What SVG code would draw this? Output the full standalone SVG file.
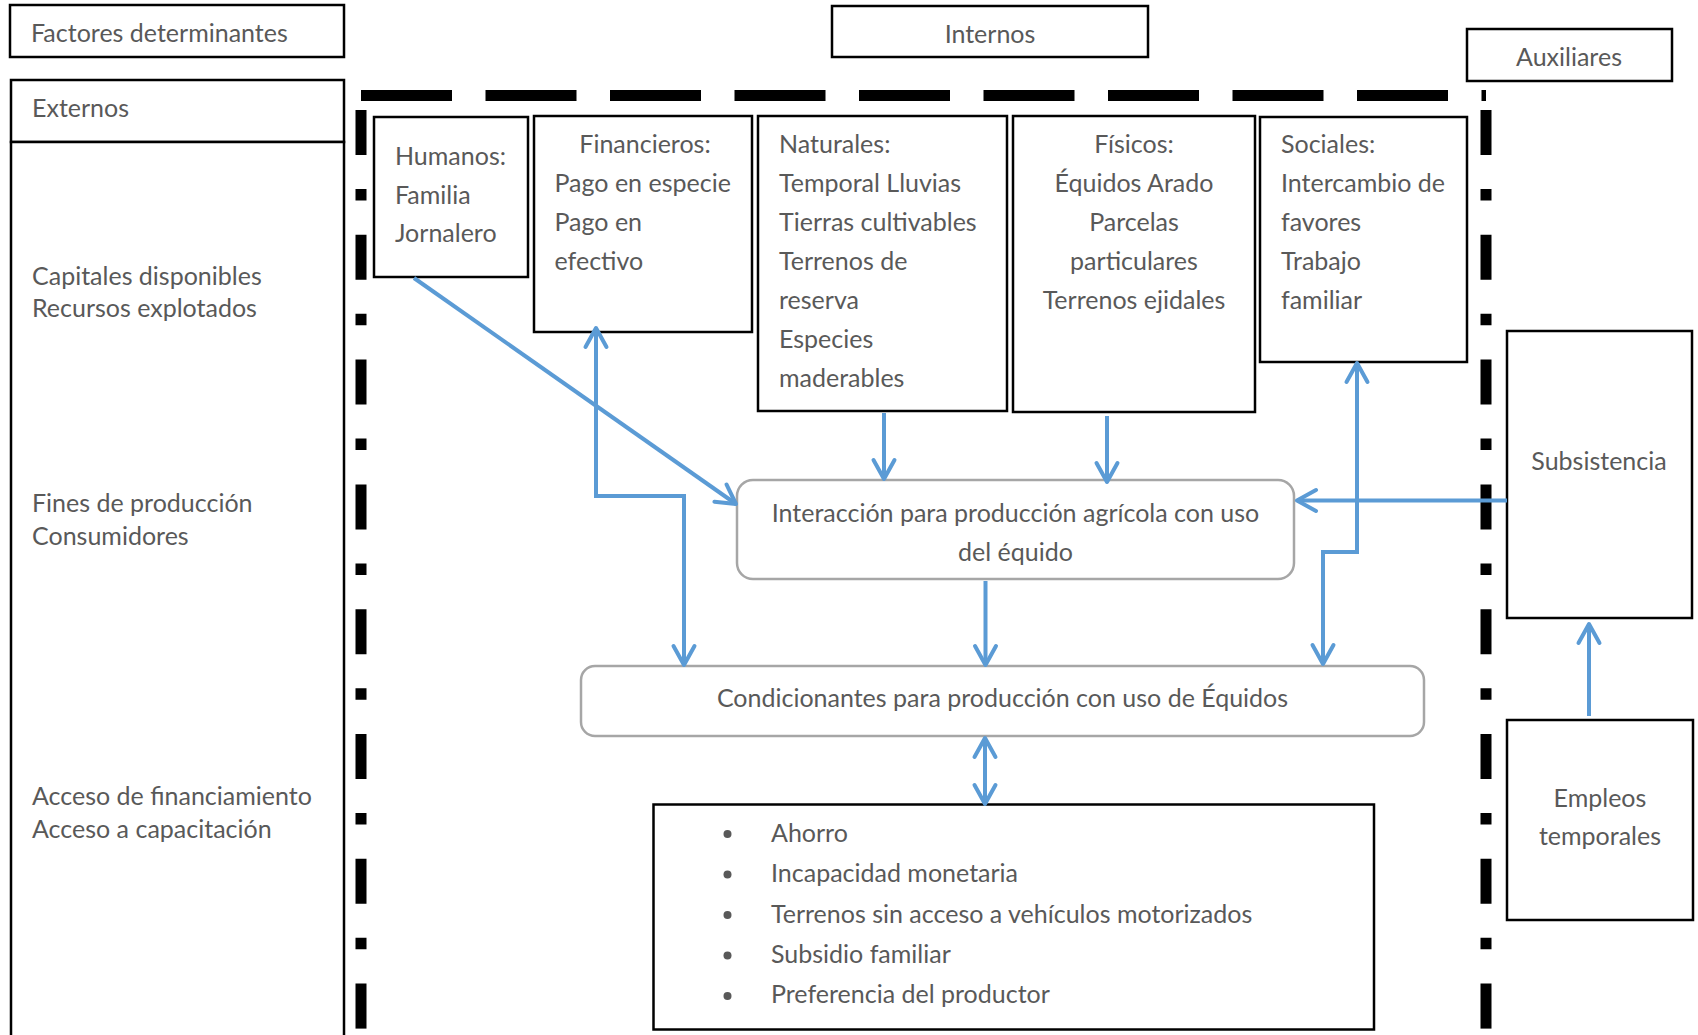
<svg xmlns="http://www.w3.org/2000/svg" width="1698" height="1035" viewBox="0 0 1698 1035">
<style>
  text { font-family: Lato, "Liberation Sans", sans-serif; font-size: 25px; fill: #595959; }
  .c { text-anchor: middle; }
  .box { fill: #ffffff; stroke: #000000; stroke-width: 2.5; }
  .rbox { fill: #ffffff; stroke: #A6A6A6; stroke-width: 2.5; }
  .conn { fill: none; stroke: #5B9BD5; stroke-width: 4; }
  .dash { fill: none; stroke: #000000; stroke-width: 11; }
</style>
<defs>
  <marker id="ah" markerUnits="userSpaceOnUse" viewBox="-25 -15 30 30" refX="0" refY="0" markerWidth="30" markerHeight="30" orient="auto-start-reverse" overflow="visible">
    <path d="M -19 -10.5 L 0 0 L -19 10.5" fill="none" stroke="#5B9BD5" stroke-width="4" stroke-linecap="round" stroke-linejoin="round"/>
  </marker>
</defs>
<rect width="1698" height="1035" fill="#ffffff"/>

<g id="separators">
  <line class="dash" x1="361" y1="95.5" x2="1486" y2="95.5" stroke-dasharray="91 33.5"/>
  <line class="dash" x1="361" y1="110" x2="361" y2="1040" stroke-dasharray="45 34 11.5 34.3"/>
  <line class="dash" x1="1486" y1="110" x2="1486" y2="1040" stroke-dasharray="45 34 11.5 34.3"/>
</g>

<g id="factores">
  <rect class="box" x="10" y="5" width="334" height="52"/>
  <text x="31" y="42">Factores determinantes</text>
</g>
<g id="externos">
  <rect class="box" x="11" y="80" width="333" height="62"/>
  <text x="32" y="117">Externos</text>
</g>
<g id="externos-lista">
  <rect class="box" x="11" y="142" width="333" height="900"/>
  <text x="32" y="284.5">Capitales disponibles</text>
  <text x="32" y="317">Recursos explotados</text>
  <text x="32" y="512">Fines de producción</text>
  <text x="32" y="545">Consumidores</text>
  <text x="32" y="805">Acceso de financiamiento</text>
  <text x="32" y="838">Acceso a capacitación</text>
</g>
<g id="internos">
  <rect class="box" x="832" y="6" width="316" height="51"/>
  <text class="c" x="990" y="43.3">Internos</text>
</g>
<g id="auxiliares">
  <rect class="box" x="1467" y="29" width="205" height="52"/>
  <text class="c" x="1569" y="66">Auxiliares</text>
</g>

<g id="humanos">
  <rect class="box" x="374" y="117" width="154" height="160"/>
  <text x="395" y="165">Humanos:</text>
  <text x="395" y="203.5">Familia</text>
  <text x="395" y="242">Jornalero</text>
</g>
<g id="financieros">
  <rect class="box" x="534" y="116" width="218" height="216"/>
  <text class="c" x="645" y="153.3">Financieros:</text>
  <text x="554.5" y="192.3">Pago en especie</text>
  <text x="554.5" y="231">Pago en</text>
  <text x="554.5" y="270">efectivo</text>
</g>
<g id="naturales">
  <rect class="box" x="758" y="116" width="249" height="295" stroke-width="3"/>
  <text x="779" y="153.3">Naturales:</text>
  <text x="779" y="192.3">Temporal Lluvias</text>
  <text x="779" y="231">Tierras cultivables</text>
  <text x="779" y="270">Terrenos de</text>
  <text x="779" y="308.5">reserva</text>
  <text x="779" y="347.5">Especies</text>
  <text x="779" y="386.5">maderables</text>
</g>
<g id="fisicos">
  <rect class="box" x="1013" y="116" width="242" height="296" stroke-width="3"/>
  <text class="c" x="1134" y="153.3">Físicos:</text>
  <text class="c" x="1134" y="192.3">Équidos Arado</text>
  <text class="c" x="1134" y="231">Parcelas</text>
  <text class="c" x="1134" y="270">particulares</text>
  <text class="c" x="1134" y="308.5">Terrenos ejidales</text>
</g>
<g id="sociales">
  <rect class="box" x="1260" y="117" width="207" height="245"/>
  <text x="1281" y="153.3">Sociales:</text>
  <text x="1281" y="192.3">Intercambio de</text>
  <text x="1281" y="231">favores</text>
  <text x="1281" y="270">Trabajo</text>
  <text x="1281" y="308.5">familiar</text>
</g>

<g id="interaccion">
  <rect class="rbox" x="737" y="480" width="557" height="99" rx="16" ry="16"/>
  <text class="c" x="1015.5" y="521.7">Interacción para producción agrícola con uso</text>
  <text class="c" x="1015.5" y="560.7">del équido</text>
</g>
<g id="condicionantes">
  <rect class="rbox" x="581" y="666" width="843" height="70" rx="14" ry="14"/>
  <text class="c" x="1002.5" y="707.3">Condicionantes para producción con uso de Équidos</text>
</g>
<g id="lista">
  <rect class="box" x="653.5" y="804.5" width="720.5" height="225" stroke-width="3"/>
  <circle cx="727.5" cy="834" r="4" fill="#595959"/>
  <circle cx="727.5" cy="874.5" r="4" fill="#595959"/>
  <circle cx="727.5" cy="915" r="4" fill="#595959"/>
  <circle cx="727.5" cy="955.5" r="4" fill="#595959"/>
  <circle cx="727.5" cy="996" r="4" fill="#595959"/>
  <text x="771" y="841.7">Ahorro</text>
  <text x="771" y="882.2">Incapacidad monetaria</text>
  <text x="771" y="922.6">Terrenos sin acceso a vehículos motorizados</text>
  <text x="771" y="963">Subsidio familiar</text>
  <text x="771" y="1003.4">Preferencia del productor</text>
</g>
<g id="subsistencia">
  <rect class="box" x="1507" y="331" width="185" height="287"/>
  <text class="c" x="1599" y="470">Subsistencia</text>
</g>
<g id="empleos">
  <rect class="box" x="1507" y="720" width="186" height="200"/>
  <text class="c" x="1600" y="807.3">Empleos</text>
  <text class="c" x="1600" y="845">temporales</text>
</g>

<g id="connectors">
  <path class="conn" d="M 414 278 L 736 504" marker-end="url(#ah)"/>
  <path class="conn" d="M 596 328 V 496 H 684 V 665" marker-start="url(#ah)" marker-end="url(#ah)"/>
  <path class="conn" d="M 884 413 V 479" marker-end="url(#ah)"/>
  <path class="conn" d="M 1107 416 V 482" marker-end="url(#ah)"/>
  <path class="conn" d="M 985.5 581 V 665" marker-end="url(#ah)"/>
  <path class="conn" d="M 1507 500.5 H 1297" marker-end="url(#ah)"/>
  <path class="conn" d="M 1357 363 V 552 H 1323 V 664" marker-start="url(#ah)" marker-end="url(#ah)"/>
  <path class="conn" d="M 985 738 V 804" marker-start="url(#ah)" marker-end="url(#ah)"/>
  <path class="conn" d="M 1589 716 V 624" marker-end="url(#ah)"/>
</g>
</svg>
